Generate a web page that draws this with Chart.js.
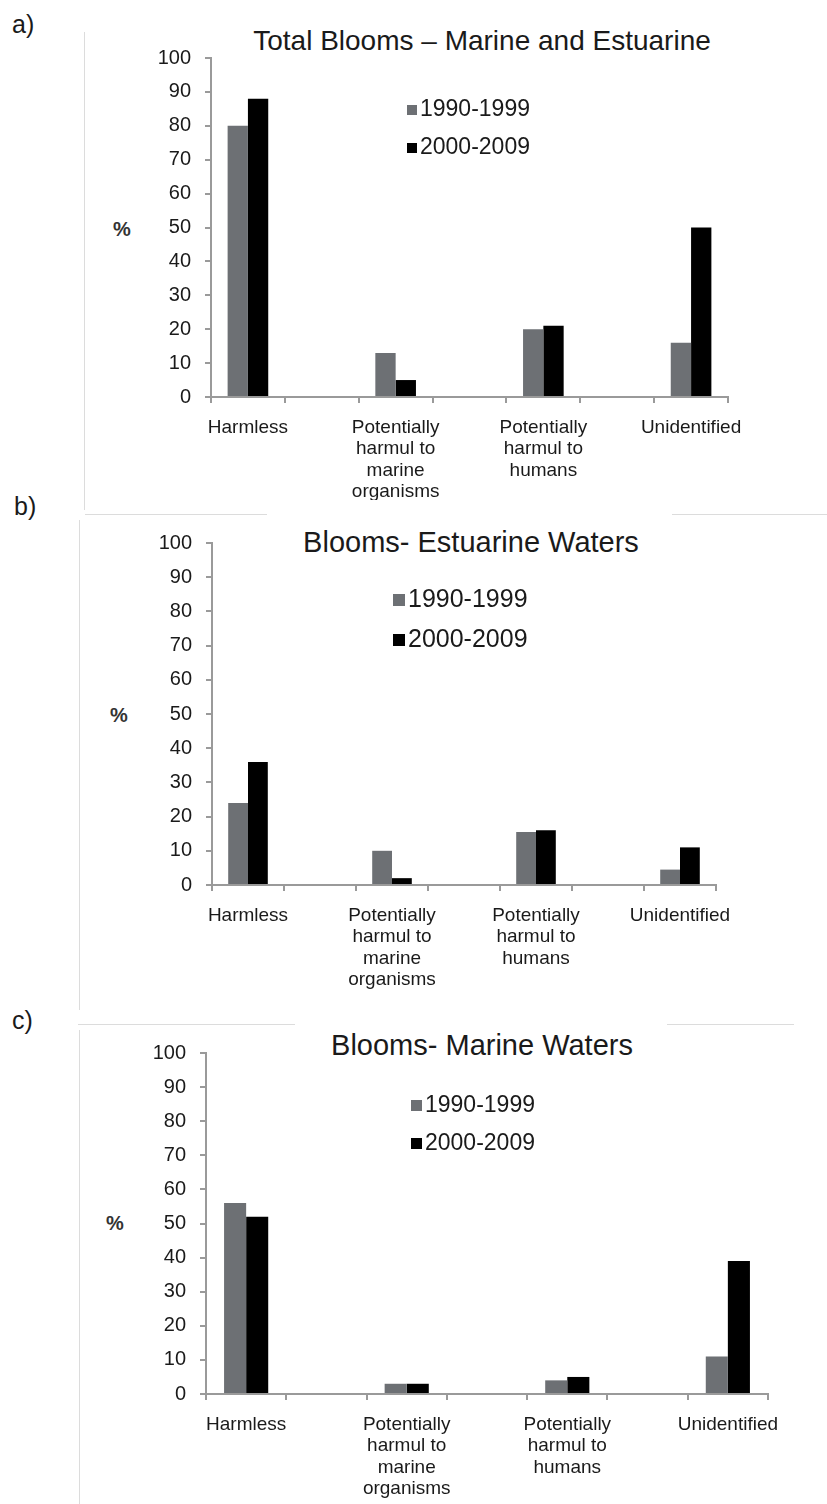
<!DOCTYPE html>
<html>
<head>
<meta charset="utf-8">
<script src="https://cdn.jsdelivr.net/npm/chart.js@4.4.0/dist/chart.umd.min.js"></script>
<style>
  body { margin: 0; background: #fff; font-family: "Liberation Sans", Arial, sans-serif; }
  #page { position: relative; width: 827px; height: 1504px; overflow: hidden; }
  canvas { position: absolute; left: 0; }
  .txt { position: absolute; color: #1a1a1a; white-space: nowrap; line-height: 1; }
  .pct { font-weight: bold; color: #333; }
  .line { position: absolute; background: #dcdcdc; }
  .leg { position: absolute; color: #1a1a1a; white-space: nowrap; line-height: 1; }
  .leg span.sw { display: inline-block; vertical-align: middle; margin-right: 3px; }
</style>
</head>
<body>
<div id="page">
  <!-- cadres legers -->
  <div class="line" style="left:84px;top:32px;width:1px;height:478px;"></div>
  <div class="line" style="left:85px;top:514px;width:182px;height:1px;"></div>
  <div class="line" style="left:672px;top:514px;width:155px;height:1px;"></div>
  <div class="line" style="left:79px;top:520px;width:1px;height:490px;"></div>
  <div class="line" style="left:78px;top:1024px;width:217px;height:1px;"></div>
  <div class="line" style="left:667px;top:1024px;width:127px;height:1px;"></div>
  <div class="line" style="left:79px;top:1030px;width:1px;height:474px;"></div>

  <div class="txt" style="left:12px;top:12px;font-size:25px;">a)</div>
  <div class="txt" style="left:14px;top:494px;font-size:25px;">b)</div>
  <div class="txt" style="left:12px;top:1008px;font-size:25px;">c)</div>

  <div class="txt" style="left:482px;top:27px;font-size:28px;transform:translateX(-50%);">Total Blooms – Marine and Estuarine</div>
  <div class="txt" style="left:471px;top:528px;font-size:29px;transform:translateX(-50%);">Blooms- Estuarine Waters</div>
  <div class="txt" style="left:482px;top:1031px;font-size:29px;transform:translateX(-50%);">Blooms- Marine Waters</div>

  <div class="txt pct" style="left:113px;top:219px;font-size:20px;">%</div>
  <div class="txt pct" style="left:110px;top:705px;font-size:20px;">%</div>
  <div class="txt pct" style="left:106px;top:1213px;font-size:20px;">%</div>

  <canvas id="chartA" width="827" height="500" style="top:0px;"></canvas>
  <canvas id="chartB" width="827" height="510" style="top:500px;"></canvas>
  <canvas id="chartC" width="827" height="494" style="top:1010px;"></canvas>

  <div class="leg" id="legA" style="left:407px;top:97px;font-size:23px;"></div>
  <div class="leg" id="legB" style="left:393px;top:586px;font-size:25px;"></div>
  <div class="leg" id="legC" style="left:411px;top:1093px;font-size:23px;"></div>
</div>

<script>
// donnees
const categories = [
  "Harmless",
  ["Potentially", "harmul to", "marine", "organisms"],
  ["Potentially", "harmul to", "humans"],
  "Unidentified"
];
const series = ["1990-1999", "2000-2009"];

// a) total
const totalOld = [80, 13, 20, 16];
const totalNew = [88, 5, 21, 50];
// b) estuarien
const estuOld = [24, 10, 15.5, 4.5];
const estuNew = [36, 2, 16, 11];
// c) marin
const marineOld = [56, 3, 4, 11];
const marineNew = [52, 3, 5, 39];

const yTicks = [0, 10, 20, 30, 40, 50, 60, 70, 80, 90, 100];

const grey = "#6d7074";
const black = "#000000";

// une colonne vide entre chaque categorie
function withGaps(arr, filler) {
  let out = [];
  arr.forEach((v, i) => {
    out.push(v);
    if (i < arr.length - 1) out.push(filler);
  });
  return out;
}

function makeChart(id, oldVals, newVals, geo) {
  let ctx = document.getElementById(id).getContext("2d");
  return new Chart(ctx, {
    type: "bar",
    data: {
      labels: withGaps(categories, ""),
      datasets: [
        { label: series[0], data: withGaps(oldVals, null), backgroundColor: grey },
        { label: series[1], data: withGaps(newVals, null), backgroundColor: black }
      ]
    },
    options: {
      responsive: false,
      animation: false,
      devicePixelRatio: 1,
      layout: { padding: { left: 0, right: geo.right, top: geo.top, bottom: 0 } },
      plugins: { legend: { display: false }, tooltip: { enabled: false } },
      datasets: { bar: { categoryPercentage: 0.55, barPercentage: 1.0 } },
      scales: {
        x: {
          afterFit: (s) => { s.height = geo.xh; },
          grid: { display: true, drawOnChartArea: false, drawTicks: true, tickLength: 6, offset: true, color: "#9a9a9a", lineWidth: 2 },
          border: { color: "#9a9a9a", width: 2 },
          ticks: {
            color: "#1a1a1a", padding: 14, maxRotation: 0, autoSkip: false,
            font: { family: "'Liberation Sans', Arial, sans-serif", size: 19, lineHeight: 1.13 }
          }
        },
        y: {
          min: 0, max: 100,
          afterFit: (s) => { s.width = geo.left; },
          afterBuildTicks: (s) => { s.ticks = yTicks.map((v) => ({ value: v })); },
          grid: { display: true, drawOnChartArea: false, drawTicks: true, tickLength: 6, color: "#9a9a9a", lineWidth: 2 },
          border: { color: "#9a9a9a", width: 2 },
          ticks: {
            color: "#1a1a1a", padding: 14,
            font: { family: "'Liberation Sans', Arial, sans-serif", size: 20 }
          }
        }
      }
    }
  });
}

function makeLegend(id, sw) {
  let el = document.getElementById(id);
  el.innerHTML = series.map((s, i) => {
    let c = i === 0 ? grey : black;
    return `<div style="height:${sw.row}px;"><span class="sw" style="width:${sw.size}px;height:${sw.size}px;background:${c};"></span>${s}</div>`;
  }).join("");
}

makeChart("chartA", totalOld, totalNew, { left: 211, right: 99, top: 58, xh: 103 });
makeChart("chartB", estuOld, estuNew, { left: 212, right: 111, top: 43, xh: 125 });
makeChart("chartC", marineOld, marineNew, { left: 206, right: 59, top: 43, xh: 110 });

makeLegend("legA", { size: 10, row: 38 });
makeLegend("legB", { size: 12, row: 40 });
makeLegend("legC", { size: 11, row: 38 });
</script>
</body>
</html>
